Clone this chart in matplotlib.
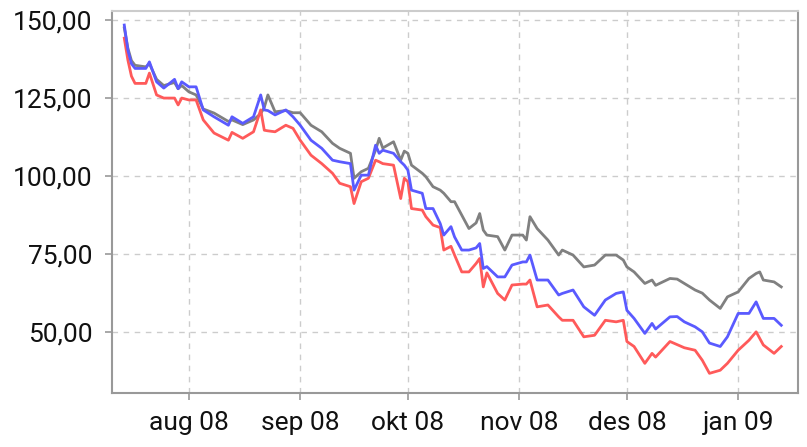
import matplotlib
matplotlib.use("Agg")
import matplotlib.pyplot as plt
from matplotlib import font_manager
import pandas as pd

dates = ["2008-07-14", "2008-07-15", "2008-07-16", "2008-07-17", "2008-07-20", "2008-07-21",
         "2008-07-23", "2008-07-25", "2008-07-28", "2008-07-29", "2008-07-30", "2008-08-01",
         "2008-08-03", "2008-08-05", "2008-08-08", "2008-08-12", "2008-08-13", "2008-08-16",
         "2008-08-19", "2008-08-21", "2008-08-22", "2008-08-23", "2008-08-25", "2008-08-28",
         "2008-08-30", "2008-09-01", "2008-09-04", "2008-09-07", "2008-09-10", "2008-09-12",
         "2008-09-15", "2008-09-16", "2008-09-18", "2008-09-20", "2008-09-22", "2008-09-23",
         "2008-09-24", "2008-09-27", "2008-09-29", "2008-09-30", "2008-10-01", "2008-10-02",
         "2008-10-05", "2008-10-06", "2008-10-08", "2008-10-10", "2008-10-11", "2008-10-13",
         "2008-10-14", "2008-10-16", "2008-10-18", "2008-10-20", "2008-10-21", "2008-10-22",
         "2008-10-23", "2008-10-26", "2008-10-28", "2008-10-30", "2008-11-02", "2008-11-03",
         "2008-11-04", "2008-11-06", "2008-11-09", "2008-11-12", "2008-11-13", "2008-11-16",
         "2008-11-19", "2008-11-22", "2008-11-25", "2008-11-28", "2008-11-30", "2008-12-01",
         "2008-12-03", "2008-12-06", "2008-12-08", "2008-12-09", "2008-12-13", "2008-12-15",
         "2008-12-17", "2008-12-20", "2008-12-22", "2008-12-24", "2008-12-27", "2008-12-29",
         "2009-01-01", "2009-01-04", "2009-01-06", "2009-01-07", "2009-01-08", "2009-01-11",
         "2009-01-13"]

gray_values = [147.5, 141, 137, 135.5, 135, 136, 131, 129, 130, 128, 129, 127,
               126, 121.5, 120.2, 117.5, 118, 116.5, 118, 120, 122, 126, 120.6, 121,
               120.3, 120.3, 116.3, 114.2, 110.5, 108.9, 107.3, 99.3, 101.4, 102.5, 108.3, 112.1,
               109, 111, 105.1, 108, 107.3, 103.5, 100.9, 99.8, 96.6, 95.5, 94.5, 91.8,
               91.8, 87.5, 83.2, 85, 88, 82.7, 81.1, 80.6, 76.3, 81.1, 81.1, 79.5,
               87, 83.2, 79.5, 74.7, 76.3, 74.7, 70.9, 71.5, 74.7, 74.7, 73.1, 70.9,
               69.3, 65.6, 66.7, 65, 67.2, 67, 65.6, 63.5, 62.5, 60.3, 57.6, 61.3,
               62.9, 67.2, 68.8, 69.3, 66.7, 66.1, 64.5]

blue_values = [148.4, 140.4, 136, 134.5, 134.5, 136.6, 130.2, 128.2, 131, 128, 130.2, 128.6,
               128.6, 121.2, 119, 116.3, 119, 116.9, 119, 126, 121.2, 121, 119.6, 121.2,
               119, 116.3, 111.5, 108.9, 105.1, 104.6, 104, 95.5, 100.3, 100.3, 109.9, 107.3,
               108.3, 107.3, 104.6, 103.5, 101.9, 95.5, 94.5, 89.6, 89.6, 84.8, 81.1, 83.8,
               80.5, 76.3, 76.3, 77, 78.4, 70.4, 71, 67.7, 67.7, 71.5, 72.5, 72.5,
               74.7, 66.7, 66.7, 61.9, 62.4, 63.5, 58.1, 55.4, 60.3, 62.4, 62.9, 57,
               54.4, 49.6, 52.8, 51, 54.9, 55, 53.3, 51.7, 50.1, 46.5, 45.4, 48.5,
               56, 56, 59.7, 57, 54.4, 54.4, 52.2]

red_values = [144.2, 137.2, 132, 129.7, 129.7, 133, 126, 125, 125, 122.8, 125, 124.4,
              124.4, 118, 113.8, 111.5, 114, 112.1, 114.2, 121.2, 114.7, 114.5, 114.2, 116.3,
              115.3, 111.5, 106.7, 104, 100.9, 97.7, 96.6, 91.2, 98.2, 99.3, 105.1, 104.6,
              104, 103.5, 92.8, 99.3, 98.2, 89.6, 89.1, 87, 84.3, 83.5, 76.3, 77.5,
              74.7, 69.3, 69.3, 72, 73.6, 64.5, 69, 62.4, 60.3, 65.1, 65.4, 65.4,
              66.7, 58.1, 58.7, 54.9, 53.8, 53.8, 48.5, 49, 53.8, 53.3, 53.8, 47,
              45.4, 40, 43.2, 42, 47, 46, 45, 44.2, 41, 36.8, 37.8, 40,
              44.2, 47.4, 50.1, 48, 45.9, 43.2, 45.4]

month_ticks = ["2008-08-01", "2008-09-01", "2008-10-01", "2008-11-01", "2008-12-01", "2009-01-01"]
month_labels = ["aug 08", "sep 08", "okt 08", "nov 08", "des 08", "jan 09"]
y_ticks = [50, 75, 100, 125, 150]

available = {f.name for f in font_manager.fontManager.ttflist}
font, fsize = "DejaVu Sans", 15
for cand, sz in [("Roboto", 19), ("DejaVu Sans Condensed", 18.5)]:
    if cand in available:
        font, fsize = cand, sz
        break
plt.rcParams["font.family"] = [font, "DejaVu Sans"]

x = pd.to_datetime(dates)

fig = plt.figure(figsize=(8.07, 4.47), dpi=100)
ax = fig.add_axes([0.1388, 0.1208, 0.8497, 0.8546])

ax.plot(x, gray_values, color="#808080", lw=2.0, zorder=3)
ax.plot(x, red_values, color="#ff5a5a", lw=2.0, zorder=4)
ax.plot(x, blue_values, color="#5a5aff", lw=2.0, zorder=5)

ax.set_xlim(pd.Timestamp("2008-07-10 14:00"), pd.Timestamp("2009-01-17 14:00"))
ax.set_ylim(30.5, 152.9)

ax.set_xticks(pd.to_datetime(month_ticks))
ax.set_xticklabels(month_labels)
ax.set_yticks(y_ticks)
ax.set_yticklabels([f"{v:.2f}".replace(".", ",") for v in y_ticks])

ax.grid(True, color="#cccccc", linestyle=(0, (4, 4)), linewidth=1.0)
ax.set_axisbelow(True)
for s in ax.spines.values():
    s.set_color("#999999")
    s.set_linewidth(1.5)
ax.spines["top"].set_color("#cccccc")
ax.tick_params(axis="both", colors="#999999", length=5, width=1.2, labelcolor="#111111",
               labelsize=fsize)
ax.tick_params(axis="y", pad=9)
ax.tick_params(axis="x", pad=8)

fig.savefig("out.png", dpi=100)
